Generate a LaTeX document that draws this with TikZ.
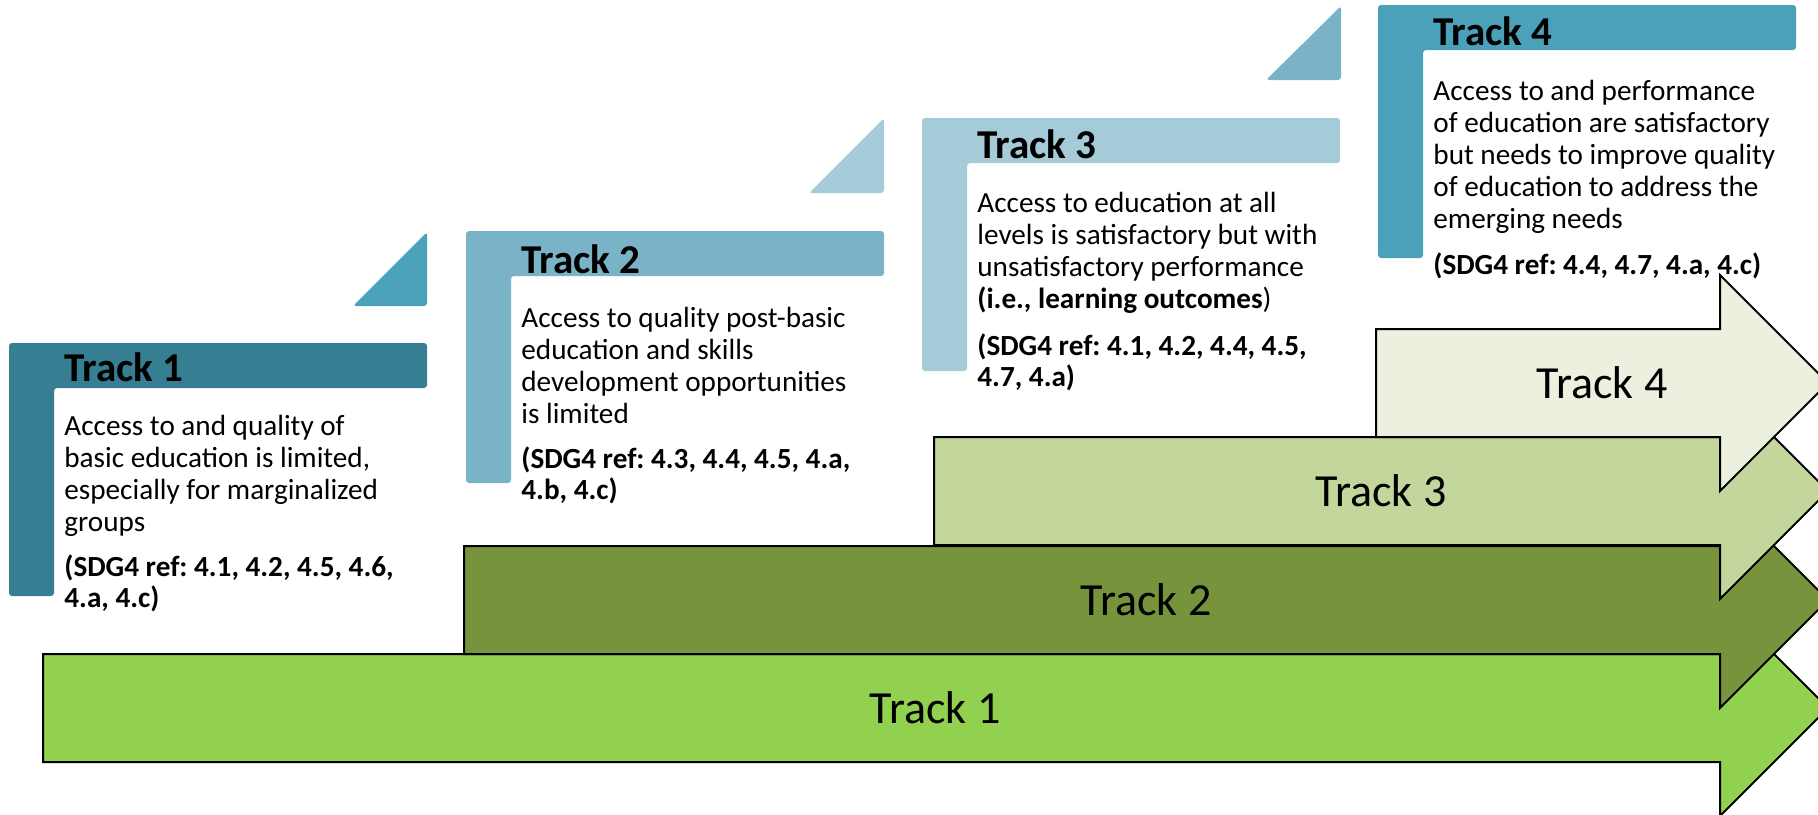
\documentclass[tikz,border=0pt]{standalone}
\usepackage{fontspec}
\setmainfont{Carlito}
\frenchspacing

\definecolor{panelone}{HTML}{367E91}
\definecolor{paneltwo}{HTML}{7AB3C8}
\definecolor{panelthree}{HTML}{A5CAD8}
\definecolor{panelfour}{HTML}{4BA0BA}
\definecolor{arrowone}{HTML}{92D050}
\definecolor{arrowtwo}{HTML}{77933C}
\definecolor{arrowthree}{HTML}{C3D69B}
\definecolor{arrowfour}{HTML}{EBF1DE}

\newcommand{\trackblock}[1]{\begin{tabular}[t]{@{}l@{}}#1\end{tabular}}

\tikzset{
  trackarrow/.style={draw=black, line width=1pt, line join=miter},
  trackpanel/.style={rounded corners=1.5pt},
  tracktitle/.style={anchor=base west, inner sep=0pt, font=\fontsize{20.5}{24}\selectfont\bfseries},
  trackdesc/.style={anchor=base west, inner sep=0pt, font=\fontsize{14.6}{16}\selectfont},
  tracksdg/.style={anchor=base west, inner sep=0pt, font=\fontsize{14.6}{15.5}\selectfont\bfseries},
  arrowlabel/.style={inner sep=0pt, font=\fontsize{23}{27}\selectfont}
}

\begin{document}
\begin{tikzpicture}[x=0.5pt, y=-0.5pt]
                \useasboundingbox (0,0) rectangle (1818,814);

                \fill[arrowone, trackarrow] (43,654) -- (1720,654) -- (1720,600) -- (1828,708) -- (1720,816) -- (1720,762) -- (43,762) -- cycle;
                \node[arrowlabel] (arrow1) at (935,708) {Track 1};

                \fill[arrowtwo, trackarrow] (464,546) -- (1720,546) -- (1720,492) -- (1828,600) -- (1720,708) -- (1720,654) -- (464,654) -- cycle;
                \node[arrowlabel] (arrow2) at (1146,600) {Track 2};

                \fill[arrowthree, trackarrow] (934,437) -- (1720,437) -- (1720,383) -- (1828,491) -- (1720,599) -- (1720,545) -- (934,545) -- cycle;
                \node[arrowlabel] (arrow3) at (1381,491) {Track 3};

                \fill[arrowfour, trackarrow] (1376,329) -- (1720,329) -- (1720,275) -- (1828,383) -- (1720,491) -- (1720,437) -- (1376,437) -- cycle;
                \node[arrowlabel] (arrow4) at (1602,383) {Track 4};

                \fill[panelone, trackpanel] (9,343) -- (427,343) -- (427,388) -- (54,388) -- (54,596) -- (9,596) -- cycle;
                \fill[panelfour, trackpanel] (427,306) -- (427,232) -- (353,306) -- cycle;
                \node[tracktitle] (title1) at (64,381) {Track 1};
                \node[trackdesc] (desc1) at (64,435) {\trackblock{Access to and quality of\\basic education is limited,\\especially for marginalized\\groups}};
                \node[tracksdg] (sdg1) at (64,576) {\trackblock{(SDG4 ref: 4.1, 4.2, 4.5, 4.6,\\4.a, 4.c)}};

                \fill[paneltwo, trackpanel] (466,231) -- (884,231) -- (884,276) -- (511,276) -- (511,483) -- (466,483) -- cycle;
                \fill[panelthree, trackpanel] (884,193) -- (884,118) -- (809,193) -- cycle;
                \node[tracktitle] (title2) at (521,273) {Track 2};
                \node[trackdesc] (desc2) at (521,327) {\trackblock{Access to quality post-basic\\education and skills\\development opportunities\\is limited}};
                \node[tracksdg] (sdg2) at (521,468) {\trackblock{(SDG4 ref: 4.3, 4.4, 4.5, 4.a,\\4.b, 4.c)}};

                \fill[panelthree, trackpanel] (922,118) -- (1340,118) -- (1340,163) -- (967,163) -- (967,371) -- (922,371) -- cycle;
                \fill[paneltwo, trackpanel] (1341,80) -- (1341,6) -- (1266,80) -- cycle;
                \node[tracktitle] (title3) at (977,158) {Track 3};
                \node[trackdesc] (desc3) at (977,212) {\trackblock{Access to education at all\\levels is satisfactory but with\\unsatisfactory performance\\\textbf{(i.e., learning outcomes})}};
                \node[tracksdg] (sdg3) at (977,355) {\trackblock{(SDG4 ref: 4.1, 4.2, 4.4, 4.5,\\4.7, 4.a)}};

                \fill[panelfour, trackpanel] (1378,5) -- (1796,5) -- (1796,50) -- (1423,50) -- (1423,258) -- (1378,258) -- cycle;
                \node[tracktitle] (title4) at (1433,45) {Track 4};
                \node[trackdesc] (desc4) at (1433,100) {\trackblock{Access to and performance\\of education are satisfactory\\but needs to improve quality\\of education to address the\\emerging needs}};
                \node[tracksdg] (sdg4) at (1433,274) {(SDG4 ref: 4.4, 4.7, 4.a, 4.c)};
\end{tikzpicture}
\end{document}
